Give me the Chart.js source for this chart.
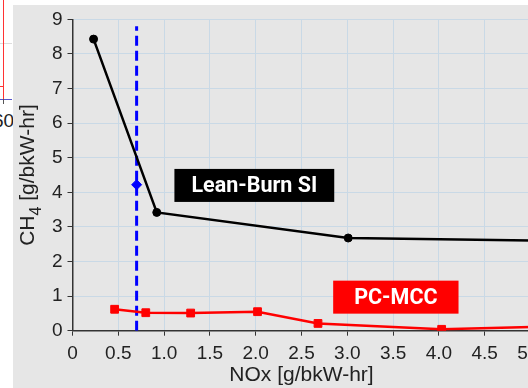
<!DOCTYPE html>
<html>
<head>
<meta charset="utf-8">
<script src="https://cdn.jsdelivr.net/npm/chart.js@4.4.1/dist/chart.umd.min.js"></script>
<style>
html,body{margin:0;padding:0;background:#fff;}
#wrap{position:relative;width:528px;height:388px;overflow:hidden;background:#fff;}
#panel{position:absolute;left:13px;top:5px;right:0;bottom:0;background:#e6e6e6;}
#cv{position:absolute;left:0;top:3px;}
.edge{position:absolute;}
#edgeLabel{position:absolute;left:-7px;top:110px;font:19px "Liberation Sans",Arial,sans-serif;color:#222;}
</style>
</head>
<body>
<div id="wrap">
  <!-- corner of the neighbouring plot -->
  <div class="edge" style="left:0;top:43px;width:12px;height:1px;background:#ddd"></div>
  <div class="edge" style="left:3px;top:0;width:1px;height:99px;background:#f33"></div>
  <div class="edge" style="left:0;top:86px;width:4px;height:1px;background:#f33"></div>
  <div class="edge" style="left:0;top:99px;width:12px;height:1px;background:#55c"></div>
  <div class="edge" style="left:3px;top:99px;width:1px;height:5px;background:#555"></div>
  <div id="edgeLabel">60</div>
  <div id="panel"></div>
  <canvas id="cv" width="560" height="385"></canvas>
</div>
<script>
// Lean-burn spark ignition engine
const leanNox = [0.23, 0.92, 3.01, 5.6];
const leanCh4 = [8.43, 3.42, 2.68, 2.59];
// PC-MCC engine
const mccNox = [0.46, 0.80, 1.29, 2.02, 2.68, 4.03, 5.6];
const mccCh4 = [0.62, 0.52, 0.51, 0.55, 0.21, 0.04, 0.15];
// NOx limit line and its marker
const limitNox = 0.7;
const limitSpan = [0, 8.8];
const markNox = [0.7];
const markCh4 = [4.22];

const xMax = 5, xStep = 0.5;
const yMax = 9, yStep = 1;

const pts = (xs, ys) => xs.map((x, i) => ({x: x, y: ys[i]}));

const tickFont = {family: '"Liberation Sans", Arial, sans-serif', size: 19};
const gridColor = '#c9d9e6';
const axisColor = '#333';

// boxed series labels, placed in data units
const tagPlugin = {
  id: 'tags',
  afterDatasetsDraw(chart, args, opts) {
    const ctx = chart.ctx, xs = chart.scales.x, ys = chart.scales.y;
    ctx.save();
    ctx.font = 'bold 21.5px Roboto, "Liberation Sans", sans-serif';
    ctx.textAlign = 'center';
    ctx.textBaseline = 'middle';
    opts.items.forEach(t => {
      const cx = xs.getPixelForValue(t.x), cy = ys.getPixelForValue(t.y);
      const w = ctx.measureText(t.text).width + 2 * t.padX, h = 33;
      ctx.fillStyle = t.bg;
      ctx.fillRect(cx - w / 2, cy - h / 2, w, h);
      ctx.fillStyle = '#fff';
      ctx.fillText(t.text, cx, cy + 1);
    });
    ctx.restore();
  }
};

// y axis title with a subscript
const yTitlePlugin = {
  id: 'ytitle',
  afterDraw(chart) {
    const ctx = chart.ctx, a = chart.chartArea;
    const main = '21px "Liberation Sans", Arial, sans-serif';
    const sub = '16px "Liberation Sans", Arial, sans-serif';
    const parts = [['CH', main, 0], ['4', sub, 7], [' [g/bkW-hr]', main, 0]];
    ctx.save();
    let total = 0;
    parts.forEach(p => { ctx.font = p[1]; total += ctx.measureText(p[0]).width; });
    ctx.translate(34, (a.top + a.bottom) / 2);
    ctx.rotate(-Math.PI / 2);
    ctx.fillStyle = '#222';
    ctx.textBaseline = 'alphabetic';
    let x = -total / 2;
    parts.forEach(p => {
      ctx.font = p[1];
      ctx.fillText(p[0], x, p[2]);
      x += ctx.measureText(p[0]).width;
    });
    ctx.restore();
  }
};

new Chart(document.getElementById('cv'), {
  type: 'scatter',
  data: {
    datasets: [
      {
        data: pts(leanNox, leanCh4),
        showLine: true,
        borderColor: '#000',
        backgroundColor: '#000',
        borderWidth: 2.5,
        pointRadius: 4,
        pointBorderWidth: 1,
        tension: 0
      },
      {
        data: pts(mccNox, mccCh4),
        showLine: true,
        borderColor: '#f00',
        backgroundColor: '#f00',
        borderWidth: 2.5,
        pointStyle: 'rect',
        pointRadius: 5.5,
        pointBorderWidth: 1,
        tension: 0
      },
      {
        data: limitSpan.map(y => ({x: limitNox, y: y})),
        showLine: true,
        borderColor: '#00f',
        borderWidth: 3,
        borderDash: [10, 5],
        pointRadius: 0
      },
      {
        data: pts(markNox, markCh4),
        borderColor: '#00f',
        backgroundColor: '#00f',
        pointStyle: 'rectRot',
        pointRadius: 5,
        pointBorderWidth: 1
      }
    ]
  },
  options: {
    responsive: false,
    animation: false,
    events: [],
    layout: {padding: {top: 11.7, right: 29.5, left: 0, bottom: 0}},
    plugins: {
      legend: {display: false},
      tooltip: {enabled: false},
      tags: {
        items: [
          {text: 'Lean-Burn SI', x: 1.985, y: 4.2, bg: '#000', padX: 17},
          {text: 'PC-MCC', x: 3.53, y: 0.97, bg: '#f00', padX: 21}
        ]
      }
    },
    scales: {
      x: {
        type: 'linear',
        min: 0, max: xMax,
        afterFit: s => { s.height = 57.3; },
        ticks: {stepSize: xStep, font: tickFont, color: '#222', padding: 7, maxRotation: 0},
        grid: {color: gridColor, tickColor: axisColor, tickLength: 5},
        border: {color: axisColor, width: 1.5},
        title: {display: true, text: 'NOx [g/bkW-hr]', color: '#222',
                font: {family: '"Liberation Sans", Arial, sans-serif', size: 21}, padding: 0}
      },
      y: {
        min: 0, max: yMax,
        afterFit: s => { s.width = 72.5; },
        ticks: {stepSize: yStep, font: tickFont, color: '#222', padding: 5},
        grid: {color: gridColor, tickColor: axisColor, tickLength: 5},
        border: {color: axisColor, width: 1.5}
      }
    }
  },
  plugins: [tagPlugin, yTitlePlugin]
});
</script>
</body>
</html>
